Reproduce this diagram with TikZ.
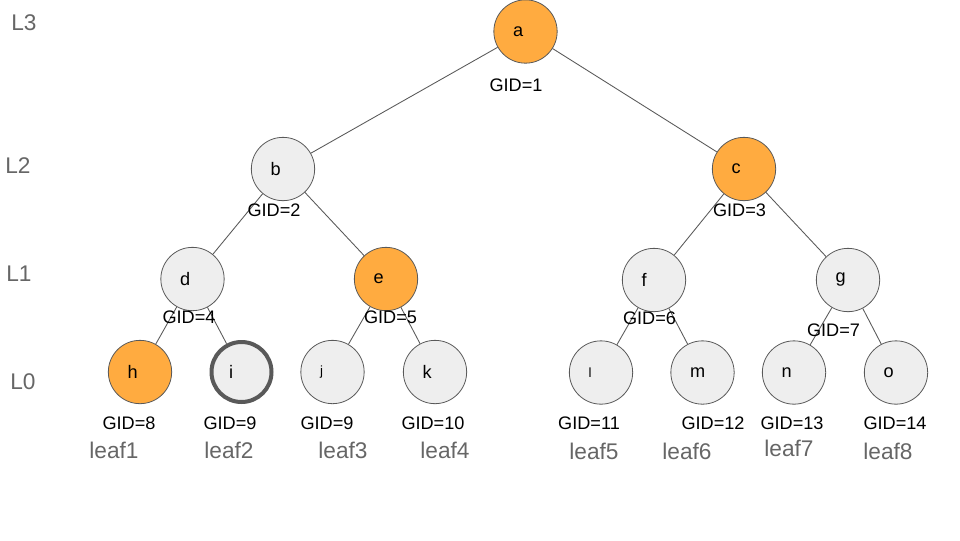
\documentclass[tikz,border=0pt]{standalone}
\usepackage{fontspec}
\setmainfont{Liberation Sans}
\definecolor{orng}{HTML}{FFAB40}
\definecolor{lgray}{HTML}{EEEEEE}
\definecolor{edgegray}{HTML}{595959}
\definecolor{txtgray}{HTML}{666666}
\begin{document}
\begin{tikzpicture}[x=0.75pt,y=-0.75pt,
  tnode/.style={circle,draw=edgegray,line width=0.6pt,minimum size=47.5pt,inner sep=0pt,
    text width=18.75pt,align=left,font=\fontsize{13.6}{16}\selectfont},
  gnode/.style={tnode,fill=lgray},
  onode/.style={tnode,fill=orng},
  small/.style={font=\fontsize{10}{12}\selectfont},
  gid/.style={font=\fontsize{13.6}{16}\selectfont,inner sep=0pt},
  lvl/.style={font=\fontsize{17}{20}\selectfont,text=txtgray,inner sep=0pt},
  edge/.style={draw=edgegray,line width=0.65pt}]
\useasboundingbox (0,0) rectangle (960,540);
% nodes
\node[onode] (a) at (525.5,31.5) {a};
\node[gnode] (b) at (283,169) {b};
\node[onode] (c) at (744,169) {c};
\node[gnode] (d) at (192.5,279) {d};
\node[onode] (e) at (386,279) {e};
\node[gnode] (f) at (654,280) {f};
\node[gnode] (g) at (848,280) {g};
\node[onode] (h) at (140,372) {h};
\node[gnode,line width=3pt,minimum size=45pt] (i) at (241.5,372) {i};
\node[gnode,small] (j) at (332.5,372) {j};
\node[gnode] (k) at (435,372) {k};
\node[gnode,small] (l) at (601,372.5) {l};
\node[gnode] (m) at (702.5,372.5) {m};
\node[gnode] (n) at (794,372.5) {n};
\node[gnode] (o) at (896,372.5) {o};
% edges
\draw[edge] (a) -- (b);
\draw[edge] (a) -- (c);
\draw[edge] (b) -- (d);
\draw[edge] (b) -- (e);
\draw[edge] (c) -- (f);
\draw[edge] (c) -- (g);
\draw[edge] (d) -- (h);
\draw[edge] (d) -- (i);
\draw[edge] (e) -- (j);
\draw[edge] (e) -- (k);
\draw[edge] (f) -- (l);
\draw[edge] (f) -- (m);
\draw[edge] (g) -- (n);
\draw[edge] (g) -- (o);
% GID labels
\node[gid] (g1) at (516,85) {GID=1};
\node[gid] (g2) at (274,210) {GID=2};
\node[gid] (g3) at (739.5,210) {GID=3};
\node[gid] (g4) at (189,317) {GID=4};
\node[gid] (g5) at (390.5,317.5) {GID=5};
\node[gid] (g6) at (649.5,318) {GID=6};
\node[gid] (g7) at (833.5,330) {GID=7};
\node[gid] (g8) at (129,423) {GID=8};
\node[gid] (g9) at (230,423) {GID=9};
\node[gid] (g9b) at (327,423) {GID=9};
\node[gid] (g10) at (433,423) {GID=10};
\node[gid] (g11) at (589,423) {GID=11};
\node[gid] (g12) at (713,423) {GID=12};
\node[gid] (g13) at (792,423) {GID=13};
\node[gid] (g14) at (895,423) {GID=14};
% leaf labels
\node[lvl] (lf1) at (114,450) {leaf1};
\node[lvl] (lf2) at (229,450) {leaf2};
\node[lvl] (lf3) at (343,450) {leaf3};
\node[lvl] (lf4) at (445,450) {leaf4};
\node[lvl] (lf5) at (594,451) {leaf5};
\node[lvl] (lf6) at (687,451) {leaf6};
\node[lvl] (lf7) at (789,448) {leaf7};
\node[lvl] (lf8) at (888,451) {leaf8};
% level labels
\node[lvl] (L3) at (24,23) {L3};
\node[lvl] (L2) at (18,166) {L2};
\node[lvl] (L1) at (19,274) {L1};
\node[lvl] (L0) at (23,382) {L0};
\end{tikzpicture}
\end{document}
